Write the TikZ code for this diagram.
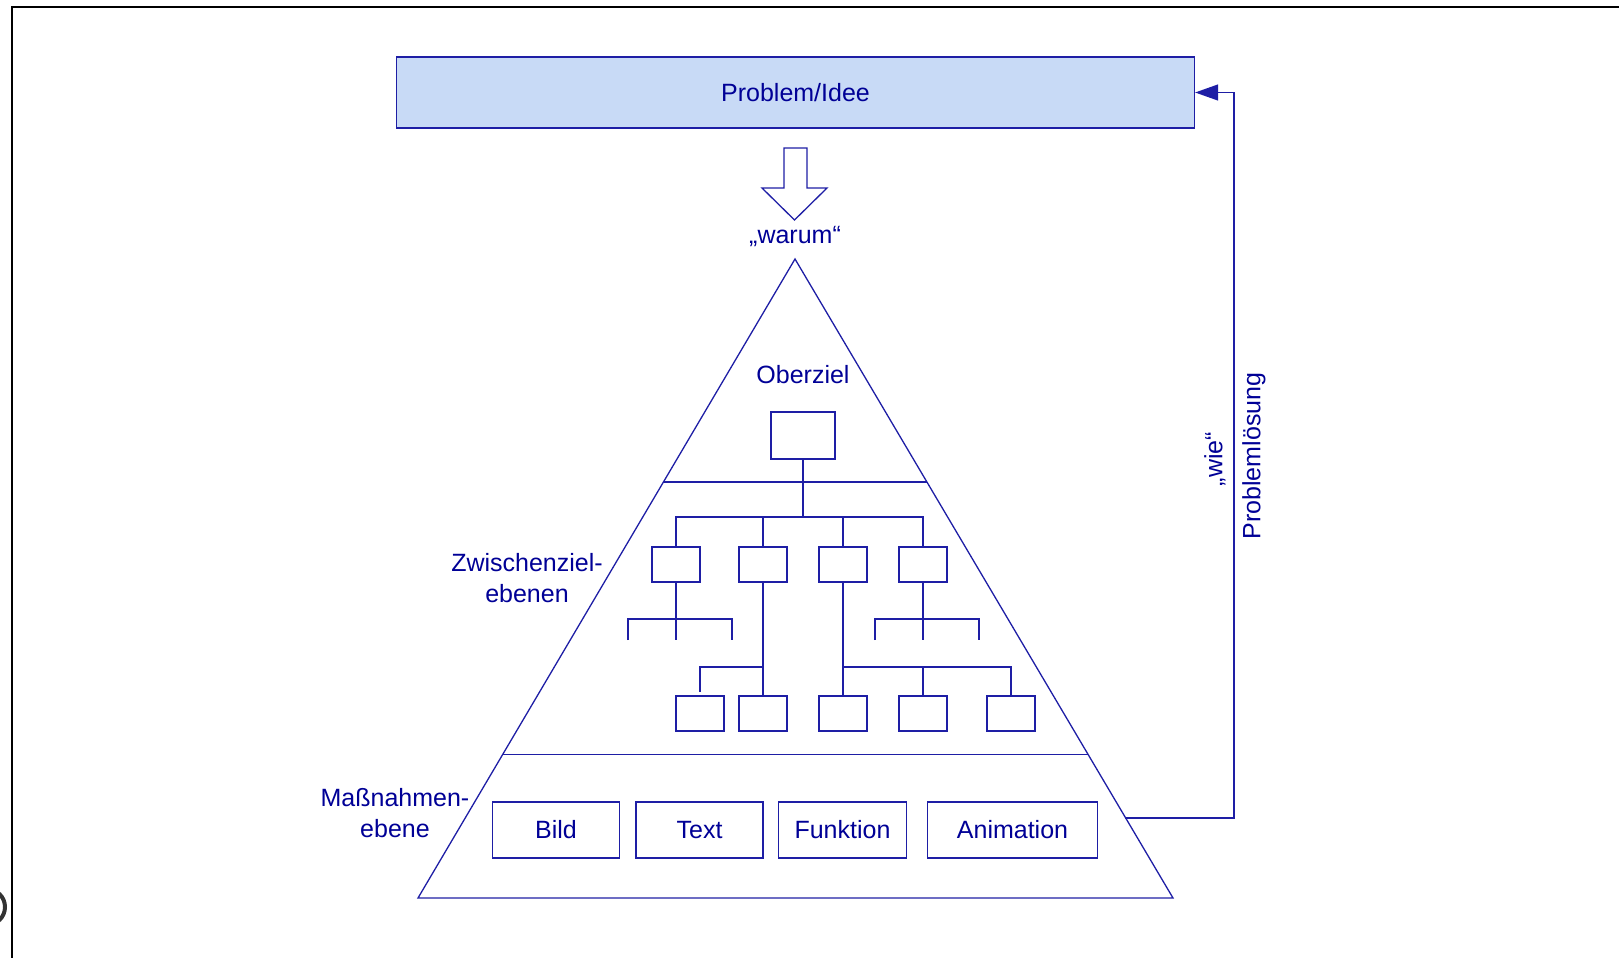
\documentclass[tikz,border=0pt]{standalone}
\usepackage{fontspec}
\setmainfont{Liberation Sans}
\usetikzlibrary{arrows.meta,calc}
\definecolor{tb}{RGB}{0,0,150}
\definecolor{lnc}{RGB}{30,30,165}
\definecolor{fillb}{RGB}{200,218,246}
\begin{document}
\begin{tikzpicture}[x=1pt,y=-1pt,
  every node/.style={font=\fontsize{25}{31}\selectfont, text=tb, inner sep=0pt},
  wire/.style={draw=lnc, line width=1.3pt},
  tbox/.style={wire, minimum width=48pt, minimum height=35pt},
  mbox/.style={wire, minimum height=56pt},
]
\useasboundingbox (0,0) rectangle (1619,958);
\clip (0,0) rectangle (1619,958);
% frame
\draw[black, line width=2.5pt] (12,960) -- (12,7) -- (1625,7);
\draw[black!80, line width=4pt] (-13,907) circle (18);

% top box
\node[wire, fill=fillb, minimum width=798pt, minimum height=71pt] (prob) at (795.5,92.5) {Problem/Idee};

% block arrow
\draw[wire, fill=white] (784,148) -- (807,148) -- (807,188) -- (827,188) -- (794.5,220) -- (762,188) -- (784,188) -- cycle;
\node[anchor=base] (warum) at (795,243) {„warum“};

% triangle
\coordinate (apex) at (795,259);
\coordinate (bl) at (418,898);
\coordinate (br) at (1173,898);
\draw[wire, line join=miter] (apex) -- (br) -- (bl) -- cycle;
\draw[wire] ($(apex)!0.349!(bl)$) -- ($(apex)!0.349!(br)$);
\draw[wire] ($(apex)!0.775!(bl)$) -- ($(apex)!0.775!(br)$);

% labels
\node[anchor=base] (ober) at (803,383) {Oberziel};
\node[align=center] (zwi) at (527,578) {Zwischenziel-\\ebenen};
\node[align=center] (mass) at (395,813) {Maßnahmen-\\ebene};

% tree
\node[wire, minimum width=64pt, minimum height=47pt] (top) at (803,435.5) {};
\node[tbox] (a1) at (676,564.5) {};
\node[tbox] (a2) at (763,564.5) {};
\node[tbox] (a3) at (843,564.5) {};
\node[tbox] (a4) at (923,564.5) {};
\node[tbox] (b1) at (700,713.5) {};
\node[tbox] (b2) at (763,713.5) {};
\node[tbox] (b3) at (843,713.5) {};
\node[tbox] (b4) at (923,713.5) {};
\node[tbox] (b5) at (1011,713.5) {};

\coordinate (bar) at (803,517);
\draw[wire] (top.south) -- (bar);
\draw[wire] (a1.north) |- (bar) -| (a4.north);
\draw[wire] (a2.north) -- (a2.north |- bar);
\draw[wire] (a3.north) -- (a3.north |- bar);

% a1 subtree
\coordinate (l1) at (628,640);
\coordinate (r1) at (732,619);
\coordinate (e1) at (676,640);
\draw[wire] (a1.south) -- (e1);
\draw[wire] (l1) |- (r1) -- (r1 |- l1);
% a4 subtree
\coordinate (l4) at (875,640);
\coordinate (r4) at (979,619);
\coordinate (e4) at (923,640);
\draw[wire] (a4.south) -- (e4);
\draw[wire] (l4) |- (r4) -- (r4 |- l4);
% a2 subtree
\coordinate (h2) at (763,667);
\coordinate (d2) at (700,692);
\draw[wire] (a2.south) -- (b2.north);
\draw[wire] (h2) -| (d2);
% a3 subtree
\coordinate (h3) at (843,667);
\draw[wire] (a3.south) -- (b3.north);
\draw[wire] (h3) -| (b5.north);
\draw[wire] (b4.north) -- (b4.north |- h3);

% bottom boxes
\node[mbox, minimum width=127pt] (bild) at (556,830) {Bild};
\node[mbox, minimum width=127pt] (text) at (699.5,830) {Text};
\node[mbox, minimum width=128pt] (funk) at (842.5,830) {Funktion};
\node[mbox, minimum width=170pt] (anim) at (1012.5,830) {Animation};

% feedback arrow
\coordinate (rs) at (1125,818);
\coordinate (c1) at (1234,818);
\draw[wire, -{Triangle[length=23pt,width=16pt]}] (rs) -- (c1) |- (prob.east);
\node[rotate=90] (pl) at (1254,456) {Problemlösung};
\node[rotate=90] (wie) at (1215,459) {„wie“};
\end{tikzpicture}
\end{document}
